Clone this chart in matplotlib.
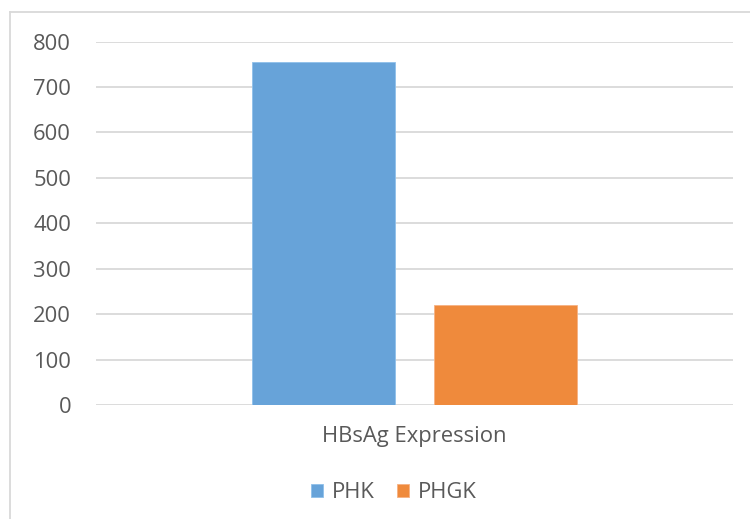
import matplotlib.pyplot as plt
from matplotlib.lines import Line2D

# Chart values
category = "HBsAg Expression"
seriesNames = ["PHK", "PHGK"]
seriesValues = [754, 220]
seriesColours = ["#67A3D9", "#EF8A3C"]
yTicks = [0, 100, 200, 300, 400, 500, 600, 700, 800]

textColour = "#595959"
gridColour = "#d9d9d9"
fontName = "Open Sans"
fontsize = 15.8

plt.rcParams["font.family"] = [fontName, "DejaVu Sans"]

fig = plt.figure(figsize=(7.5, 5.19), dpi=100)
ax = fig.add_axes([0.128, 0.2197, 0.849, 0.7003])

barWidth = 0.2245
offsets = [-0.1425, 0.1425]
for name, value, colour, off in zip(seriesNames, seriesValues, seriesColours, offsets):
    ax.bar(off, value, width=barWidth, color=colour, edgecolor="#8fc0ea" if name == "PHK" else "#f6b283",
           linewidth=0.6, label=name, zorder=3)

ax.set_xlim(-0.5, 0.5)
ax.set_ylim(0, 800)
ax.set_yticks(yTicks)
ax.set_yticklabels([str(t) for t in yTicks])
ax.set_xticks([0])
ax.set_xticklabels([category])

ax.grid(axis="y", color=gridColour, linewidth=1.3, zorder=0)
for spine in ax.spines.values():
    spine.set_visible(False)
ax.tick_params(axis="y", length=0, pad=18, labelsize=fontsize, labelcolor=textColour)
ax.tick_params(axis="x", length=0, pad=15, labelsize=fontsize, labelcolor=textColour)

# Chart border (only top and left edge visible in the crop)
W, H = 750, 519
fig.add_artist(Line2D([10 / W, 1.0], [1 - 12 / H, 1 - 12 / H], transform=fig.transFigure,
                      color=gridColour, linewidth=1.3))
fig.add_artist(Line2D([10 / W, 10 / W], [0.0, 1 - 12 / H], transform=fig.transFigure,
                      color=gridColour, linewidth=1.3))

handles, labels = ax.get_legend_handles_labels()
leg = fig.legend(handles, labels, loc="center", bbox_to_anchor=(0.525, 1 - 493 / H), ncol=2,
                 frameon=False, fontsize=fontsize, handlelength=0.55, handleheight=0.55,
                 handletextpad=0.4, columnspacing=1.0, labelcolor=textColour)

fig.savefig("out.png", dpi=100)
